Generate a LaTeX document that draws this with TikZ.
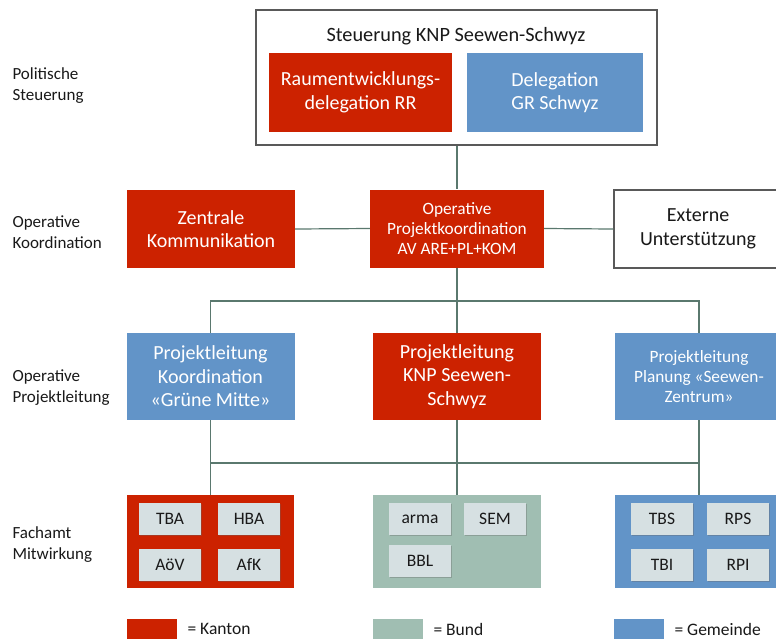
\documentclass[tikz,border=0pt]{standalone}
\usepackage{fontspec}
\setmainfont{Carlito}
\usetikzlibrary{shadows}
\definecolor{kred}{RGB}{204,34,0}
\definecolor{gblue}{RGB}{98,148,200}
\definecolor{bgreen}{RGB}{160,190,178}
\definecolor{inner}{RGB}{214,224,226}
\definecolor{conn}{RGB}{90,120,110}
\definecolor{txt}{RGB}{25,25,25}
\tikzset{
  box/.style={draw=none, minimum width=#1, inner sep=2pt, align=center, text=white},
  bigtext/.style={font=\fontsize{20}{23.5}\selectfont},
  smalltext/.style={font=\fontsize{17.3}{20.2}\selectfont},
  redbox/.style={fill=kred},
  bluebox/.style={fill=gblue},
  greenbox/.style={fill=bgreen},
  whitebox/.style={fill=white, draw=black!65, line width=1.1pt, text=txt},
  innerbox/.style={fill=inner, minimum width=62pt, minimum height=32pt, inner sep=0pt,
    text=txt, font=\fontsize{17.5}{20}\selectfont,
    drop shadow={shadow xshift=1pt, shadow yshift=-1.2pt, opacity=0.35, fill=black!60}},
  lvl/.style={anchor=west, align=left, text=txt, font=\fontsize{17}{21}\selectfont},
  leg/.style={anchor=west, text=txt, font=\fontsize{17.5}{20}\selectfont},
  legsq/.style={minimum width=50pt, minimum height=20pt, inner sep=0pt},
  con/.style={draw=conn, line width=1.2pt},
}
\begin{document}
\begin{tikzpicture}[x=1pt, y=-1pt]
\useasboundingbox (0,0) rectangle (776,641);
\clip (0,0) rectangle (776,641);
\fill[white] (0,0) rectangle (776,641);

% level labels
\node[lvl] (l1) at (9,86) {Politische\\Steuerung};
\node[lvl] (l2) at (9,232) {Operative\\Koordination};
\node[lvl] (l3) at (9,388) {Operative\\Projektleitung};
\node[lvl] (l4) at (9,545) {Fachamt\\Mitwirkung};

% top
\node[whitebox, minimum width=401pt, minimum height=135pt, inner sep=0pt] (top) at (456.5,77.5) {};
\node[text=txt, font=\fontsize{20.3}{24}\selectfont] (ttl) at (456,36) {Steuerung KNP Seewen-Schwyz};
\node[box=183pt, redbox, bigtext, minimum height=79pt] (rr) at (360.5,92.5) {Raumentwicklungs-\\delegation RR};
\node[box=176pt, bluebox, bigtext, minimum height=79pt] (gr) at (555,92.5) {Delegation\\GR Schwyz};

% row 2
\node[box=168pt, redbox, bigtext, minimum height=78pt] (zk) at (211,229) {Zentrale\\Kommunikation};
\node[box=174pt, redbox, smalltext, minimum height=78pt] (opk) at (457,228.5) {Operative\\Projektkoordination\\AV ARE+PL+KOM};
\node[box=168pt, whitebox, bigtext, minimum height=78pt, inner sep=2pt] (ext) at (698,229) {Externe\\Unterstützung};

% row 3
\node[box=168pt, bluebox, bigtext, minimum height=87pt] (plk) at (210.5,376.5) {Projektleitung\\Koordination\\«Grüne Mitte»};
\node[box=168pt, redbox, bigtext, minimum height=87pt] (plm) at (457,376.5) {Projektleitung\\KNP Seewen-\\Schwyz};
\node[box=168pt, bluebox, smalltext, minimum height=87pt] (plz) at (699,376.5) {Projektleitung\\Planung «Seewen-\\Zentrum»};

% row 4
\node[box=167pt, redbox, minimum height=93pt] (fk) at (210.5,541.5) {};
\node[box=168pt, greenbox, minimum height=93pt] (fb) at (457,541.5) {};
\node[box=168pt, bluebox, minimum height=93pt] (fg) at (699,541.5) {};

\node[innerbox] (tba) at (170,519) {TBA};
\node[innerbox] (hba) at (249,519) {HBA};
\node[innerbox] (aov) at (170,564.5) {AöV};
\node[innerbox] (afk) at (249,564.5) {AfK};
\node[innerbox] (arma) at (420,519) {arma};
\node[innerbox] (sem) at (495,519) {SEM};
\node[innerbox] (bbl) at (420,560.5) {BBL};
\node[innerbox] (tbs) at (662,519) {TBS};
\node[innerbox] (rps) at (738,519) {RPS};
\node[innerbox] (tbi) at (662,564.5) {TBI};
\node[innerbox] (rpi) at (738,564.5) {RPI};

% connectors
\coordinate (bus1) at (457,301);
\coordinate (bus2) at (457,463);
\draw[con] (top.south -| opk.north) -- (opk.north);
\draw[con] (zk.east) -- (opk.west);
\draw[con] (opk.east) -- (ext.west);
\draw[con] (opk.south -| plm.north) -- (plm.north);
\draw[con] (plk.north) |- (bus1) -| (plz.north);
\draw[con] (plk.south) -- (fk.north);
\draw[con] (plm.south) -- (fb.north);
\draw[con] (plz.south) -- (fg.north);
\draw[con, line width=2pt] (plk.south |- bus2) -- (plz.south |- bus2);

% legend
\node[legsq, fill=kred] (lk) at (152,629) {};
\node[leg] (lkt) at (184,629) {= Kanton};
\node[legsq, fill=bgreen] (lb) at (398,629) {};
\node[leg] (lbt) at (430,629) {= Bund};
\node[legsq, fill=gblue] (lg) at (639,629) {};
\node[leg] (lgt) at (671,629) {= Gemeinde};
\end{tikzpicture}
\end{document}
